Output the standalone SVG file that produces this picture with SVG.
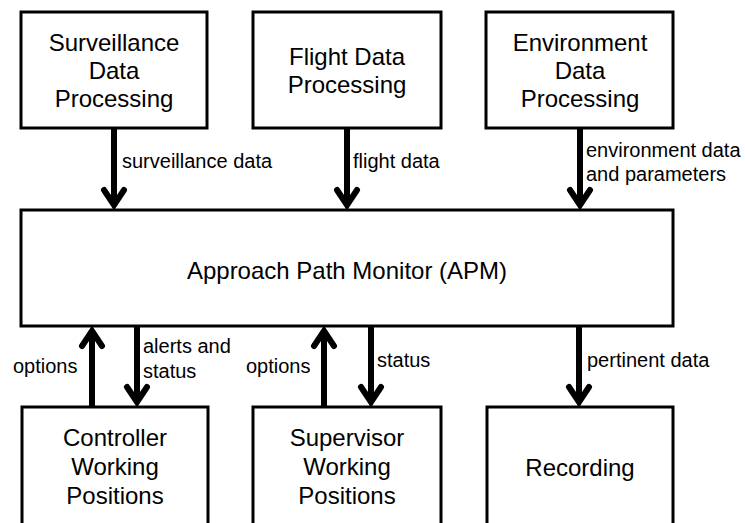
<svg xmlns="http://www.w3.org/2000/svg" width="745" height="523" viewBox="0 0 745 523">
  <style>
    .box { fill: #ffffff; stroke: #000000; stroke-width: 3; }
    .node { font-family: "Liberation Sans", Arial, sans-serif; font-size: 24px; fill: #000000; text-anchor: middle; }
    .lbl { font-family: "Liberation Sans", Arial, sans-serif; font-size: 20px; fill: #000000; }
    .conn { stroke: #000000; stroke-width: 6; fill: none; marker-end: url(#arrow); }
  </style>
  <defs>
    <marker id="arrow" markerUnits="userSpaceOnUse" viewBox="-20 -14 24 28" refX="0" refY="0" markerWidth="24" markerHeight="28" orient="auto" overflow="visible">
      <path d="M -15 -10 L 0 0 L -15 10" fill="none" stroke="#000000" stroke-width="6" stroke-linecap="round" stroke-linejoin="miter"/>
    </marker>
  </defs>
  <rect width="745" height="523" fill="#ffffff"/>

  <g id="surveillance">
    <rect class="box" x="21" y="12" width="186" height="116"/>
    <text class="node" x="114" y="51">Surveillance</text>
    <text class="node" x="114" y="79">Data</text>
    <text class="node" x="114" y="107">Processing</text>
  </g>
  <g id="flight">
    <rect class="box" x="253" y="12" width="188" height="116"/>
    <text class="node" x="347" y="65">Flight Data</text>
    <text class="node" x="347" y="93">Processing</text>
  </g>
  <g id="environment">
    <rect class="box" x="486" y="12" width="187" height="116"/>
    <text class="node" x="580" y="51">Environment</text>
    <text class="node" x="580" y="79">Data</text>
    <text class="node" x="580" y="107">Processing</text>
  </g>
  <g id="apm">
    <rect class="box" x="21" y="210" width="652" height="116"/>
    <text class="node" x="347" y="279">Approach Path Monitor (APM)</text>
  </g>
  <g id="controller">
    <rect class="box" x="22" y="407" width="186" height="125"/>
    <text class="node" x="115" y="446">Controller</text>
    <text class="node" x="115" y="475">Working</text>
    <text class="node" x="115" y="504">Positions</text>
  </g>
  <g id="supervisor">
    <rect class="box" x="253" y="407" width="188" height="125"/>
    <text class="node" x="347" y="446">Supervisor</text>
    <text class="node" x="347" y="475">Working</text>
    <text class="node" x="347" y="504">Positions</text>
  </g>
  <g id="recording">
    <rect class="box" x="487" y="407" width="186" height="125"/>
    <text class="node" x="580" y="476">Recording</text>
  </g>

  <g id="connectors">
    <path class="conn" d="M 114 128 L 114 205"/>
    <path class="conn" d="M 347 128 L 347 205"/>
    <path class="conn" d="M 580 128 L 580 205"/>
    <path class="conn" d="M 92 407 L 92 331"/>
    <path class="conn" d="M 137 326 L 137 402"/>
    <path class="conn" d="M 324 407 L 324 331"/>
    <path class="conn" d="M 371 326 L 371 402"/>
    <path class="conn" d="M 579 326 L 579 402"/>
    <text class="lbl" x="122" y="168">surveillance data</text>
    <text class="lbl" x="353" y="168">flight data</text>
    <text class="lbl" x="586" y="157">environment data</text>
    <text class="lbl" x="586" y="181">and parameters</text>
    <text class="lbl" x="13" y="373">options</text>
    <text class="lbl" x="143" y="353">alerts and</text>
    <text class="lbl" x="143" y="378">status</text>
    <text class="lbl" x="246" y="373">options</text>
    <text class="lbl" x="377" y="367">status</text>
    <text class="lbl" x="587" y="367">pertinent data</text>
  </g>
</svg>
